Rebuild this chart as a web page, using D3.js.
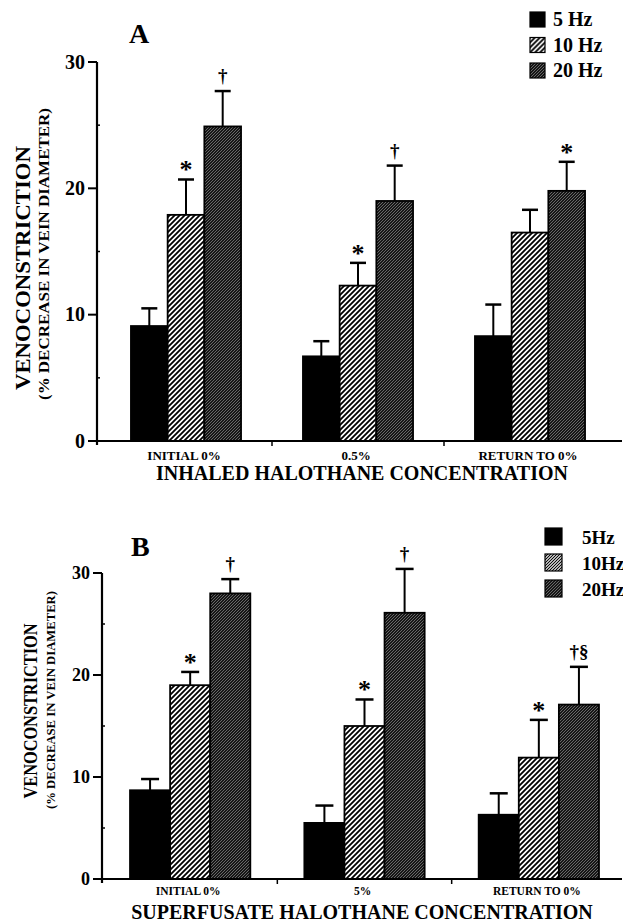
<!DOCTYPE html>
<html>
<head>
<meta charset="utf-8">
<script src="https://cdn.jsdelivr.net/npm/d3@7"></script>
<style>
  body { margin: 0; background: #fff; }
  svg { display: block; }
  text { font-family: "Liberation Serif", "Times New Roman", serif; font-weight: bold; fill: #000; }
</style>
</head>
<body>
<svg id="chart" width="623" height="924"></svg>
<script>
// ---- data ----
let groupsA = ["INITIAL 0%", "0.5%", "RETURN TO 0%"];
let groupsB = ["INITIAL 0%", "5%", "RETURN TO 0%"];
let seriesA = ["5 Hz", "10 Hz", "20 Hz"];
let seriesB = ["5Hz", "10Hz", "20Hz"];
let yTicks = [0, 10, 20, 30];

// panel A: inhaled halothane
let a5 = [9.1, 6.7, 8.3];
let a10 = [17.9, 12.3, 16.5];
let a20 = [24.9, 19.0, 19.8];
let a5err = [10.5, 7.9, 10.8];
let a10err = [20.7, 14.1, 18.3];
let a20err = [27.7, 21.8, 22.1];
let a5mark = ["", "", ""];
let a10mark = ["*", "*", ""];
let a20mark = ["†", "†", "*"];

// panel B: superfusate halothane
let b5 = [8.7, 5.5, 6.3];
let b10 = [19.0, 15.0, 11.9];
let b20 = [28.0, 26.1, 17.1];
let b5err = [9.8, 7.2, 8.4];
let b10err = [20.3, 17.6, 15.6];
let b20err = [29.4, 30.4, 20.8];
let b5mark = ["", "", ""];
let b10mark = ["*", "*", "*"];
let b20mark = ["†", "†", "†§"];

let svg = d3.select("#chart");
let defs = svg.append("defs");

// hatch patterns
function hatch(id, size, bg, fg, sw) {
    let p = defs.append("pattern")
        .attr("id", id)
        .attr("patternUnits", "userSpaceOnUse")
        .attr("width", size).attr("height", size);
    p.append("rect").attr("width", size).attr("height", size).attr("fill", bg);
    p.append("path")
        .attr("d", `M-1,1 l2,-2 M0,${size} l${size},-${size} M${size - 1},${size + 1} l2,-2`)
        .attr("stroke", fg).attr("stroke-width", sw);
}
hatch("h10", 5, "#fff", "#000", 1.8);
hatch("h10dense", 3, "#fff", "#000", 1.1);
hatch("h20", 3, "#161616", "#a0a0a0", 0.6);

function draw_panel(cfg) {
    let g = svg.append("g");

    let y = d3.scaleLinear().domain([0, 30]).range([cfg.y0, cfg.y30]);
    let x0 = d3.scaleBand().domain(cfg.groups).range([cfg.x0, cfg.x1])
        .paddingInner(cfg.pad).paddingOuter(cfg.pad / 2);
    let x1 = d3.scaleBand().domain(d3.range(3)).range([0, x0.bandwidth()]);

    let rows = [];
    cfg.groups.forEach((grp, i) => {
        for (let j = 0; j < 3; j++) {
            rows.push({group: grp, s: j, value: cfg.vals[j][i], err: cfg.errs[j][i], mark: cfg.marks[j][i]});
        }
    });

    // error bars (drawn first, bar covers the stem base)
    let bx = d => x0(d.group) + x1(d.s) + x1.bandwidth() / 2;
    g.append("g").selectAll("line.stem").data(rows).join("line")
        .attr("x1", bx).attr("x2", bx)
        .attr("y1", d => y(d.value)).attr("y2", d => y(d.err))
        .attr("stroke", "#000").attr("stroke-width", 2);
    g.append("g").selectAll("line.cap").data(rows).join("line")
        .attr("x1", d => bx(d) - cfg.cap / 2).attr("x2", d => bx(d) + cfg.cap / 2)
        .attr("y1", d => y(d.err)).attr("y2", d => y(d.err))
        .attr("stroke", "#000").attr("stroke-width", 2.5);

    // bars
    g.append("g").selectAll("rect").data(rows).join("rect")
        .attr("x", d => x0(d.group) + x1(d.s))
        .attr("y", d => y(d.value))
        .attr("width", x1.bandwidth())
        .attr("height", d => y(0) - y(d.value))
        .attr("fill", d => cfg.fills[d.s])
        .attr("stroke", "#000").attr("stroke-width", 1.8);

    // significance marks
    g.append("g").selectAll("text").data(rows.filter(d => d.mark)).join("text")
        .attr("x", bx)
        .attr("y", d => d.mark == "*" ? y(d.err) - 1 : y(d.err) - 9)
        .attr("text-anchor", "middle")
        .attr("font-size", d => d.mark == "*" ? 26 : 19)
        .text(d => d.mark);

    // y axis
    let yAxis = g.append("g").attr("transform", `translate(${cfg.axisX},0)`);
    yAxis.append("line").attr("y1", y(30)).attr("y2", y(0) + 4)
        .attr("stroke", "#000").attr("stroke-width", 2.2);
    yAxis.selectAll("line.major").data(yTicks).join("line")
        .attr("x1", -9).attr("x2", 0)
        .attr("y1", d => y(d)).attr("y2", d => y(d))
        .attr("stroke", "#000").attr("stroke-width", 2);
    yAxis.selectAll("line.minor").data([5, 15, 25]).join("line")
        .attr("x1", 0).attr("x2", 3)
        .attr("y1", d => y(d)).attr("y2", d => y(d))
        .attr("stroke", "#000").attr("stroke-width", 1.5);
    yAxis.selectAll("text").data(yTicks).join("text")
        .attr("x", -12).attr("y", d => y(d) + cfg.tickFont * 0.33)
        .attr("text-anchor", "end")
        .attr("font-size", cfg.tickFont)
        .text(d => d);

    // x axis
    g.append("line").attr("x1", cfg.axisX).attr("x2", 622)
        .attr("y1", y(0)).attr("y2", y(0))
        .attr("stroke", "#000").attr("stroke-width", 2.2);
    let step = x0.step();
    g.append("g").selectAll("line").data(cfg.groups.slice(1)).join("line")
        .attr("x1", d => x0(d) - step * cfg.pad / 2).attr("x2", d => x0(d) - step * cfg.pad / 2)
        .attr("y1", y(0)).attr("y2", y(0) + 5)
        .attr("stroke", "#000").attr("stroke-width", 1.5);
    g.append("g").selectAll("text").data(cfg.groups).join("text")
        .attr("x", d => x0(d) + x0.bandwidth() / 2 - 2)
        .attr("y", cfg.catY)
        .attr("text-anchor", "middle")
        .attr("font-size", cfg.catFont)
        .text(d => d);

    // x title
    g.append("text").attr("x", cfg.titleX).attr("y", cfg.titleY)
        .attr("text-anchor", "middle").attr("font-size", 20)
        .text(cfg.xTitle);

    // y titles
    g.append("text")
        .attr("transform", `translate(${cfg.yl1[0]},${cfg.yl1[1]}) rotate(-90)`)
        .attr("text-anchor", "middle").attr("font-size", cfg.yl1[2])
        .attr("textLength", cfg.yl1[3]).attr("lengthAdjust", "spacingAndGlyphs")
        .text("VENOCONSTRICTION");
    g.append("text")
        .attr("transform", `translate(${cfg.yl2[0]},${cfg.yl2[1]}) rotate(-90)`)
        .attr("text-anchor", "middle").attr("font-size", cfg.yl2[2])
        .attr("textLength", cfg.yl2[3]).attr("lengthAdjust", "spacingAndGlyphs")
        .text("(% DECREASE IN VEIN DIAMETER)");

    // panel letter
    g.append("text").attr("x", cfg.letter[0]).attr("y", cfg.letter[1])
        .attr("font-size", 28).text(cfg.name);

    // legend
    let leg = g.append("g").selectAll("g").data(cfg.series).join("g")
        .attr("transform", (d, i) => `translate(${cfg.legX},${cfg.legY + i * cfg.legStep})`);
    leg.append("rect").attr("width", cfg.sw).attr("height", cfg.sw)
        .attr("fill", (d, i) => cfg.legFills[i])
        .attr("stroke", "#000").attr("stroke-width", 1.2);
    leg.append("text").attr("x", cfg.legText).attr("y", cfg.sw - 1)
        .attr("font-size", cfg.legFont).text(d => d);
}

draw_panel({
    name: "A", groups: groupsA, series: seriesA,
    vals: [a5, a10, a20], errs: [a5err, a10err, a20err], marks: [a5mark, a10mark, a20mark],
    fills: ["#000", "url(#h10)", "url(#h20)"],
    legFills: ["#000", "url(#h10)", "url(#h20)"],
    y0: 441, y30: 62, axisX: 97, x0: 100, x1: 616, pad: 0.36, cap: 16,
    tickFont: 20, catFont: 13, catY: 460,
    xTitle: "INHALED HALOTHANE CONCENTRATION", titleX: 362, titleY: 480,
    yl1: [30, 268, 21, 244], yl2: [49, 254, 14, 292],
    letter: [129, 43],
    legX: 530, legY: 12, legStep: 25.5, sw: 15, legText: 23, legFont: 20
});

draw_panel({
    name: "B", groups: groupsB, series: seriesB,
    vals: [b5, b10, b20], errs: [b5err, b10err, b20err], marks: [b5mark, b10mark, b20mark],
    fills: ["#000", "url(#h10)", "url(#h20)"],
    legFills: ["#000", "url(#h10dense)", "url(#h20)"],
    y0: 879, y30: 573, axisX: 102, x0: 103, x1: 626, pad: 0.31, cap: 18,
    tickFont: 18, catFont: 11.5, catY: 895,
    xTitle: "SUPERFUSATE HALOTHANE CONCENTRATION", titleX: 362, titleY: 919,
    yl1: [37, 711, 18, 175], yl2: [55, 700, 13, 218],
    letter: [131, 556],
    legX: 545, legY: 528, legStep: 26, sw: 17, legText: 37, legFont: 19
});
</script>
</body>
</html>
